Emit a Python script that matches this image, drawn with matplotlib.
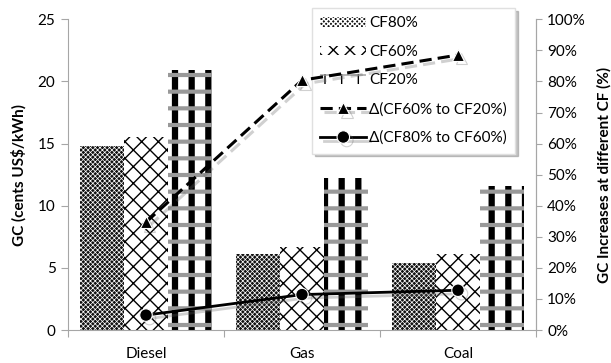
import matplotlib
matplotlib.use('Agg')
import numpy as np
import matplotlib.pyplot as plt
import matplotlib.patheffects as pe
from matplotlib.ticker import FuncFormatter

plt.rcParams['font.family'] = ['Lato', 'DejaVu Sans']

# data
categories = ['Diesel', 'Gas', 'Coal']
cf80 = [14.8, 6.1, 5.4]
cf60 = [15.5, 6.7, 6.1]
cf20 = [20.9, 12.2, 11.6]
d_60_20 = [34.7, 80.4, 88.5]   # %
d_80_60 = [4.8, 11.4, 12.8]    # %

grey = '#a6a6a6'

fig = plt.figure(figsize=(6.11, 3.63), dpi=100)
ax = fig.add_axes([0.1113, 0.0909, 0.766, 0.8559])
ax2 = ax.twinx()

x = np.arange(len(categories))
w = 0.284


def hatched_bar(xpos, vals, face, edge, hatch, hlw, **kw):
    with plt.rc_context({'hatch.linewidth': hlw}):
        bars = ax.bar(xpos, vals, w, facecolor=face, edgecolor=edge,
                      hatch=hatch, linewidth=0, **kw)
    for b in bars:
        if hasattr(b, 'set_hatch_linewidth'):
            b.set_hatch_linewidth(hlw)
    return bars


b80 = hatched_bar(x - w, cf80, '#111111', 'white', 'xxxxxxx', 0.5)
b60 = hatched_bar(x, cf60, 'white', 'black', 'xx', 1.0)
b20a = hatched_bar(x + w, cf20, 'white', 'black', '|', 4.5)
b20b = hatched_bar(x + w, cf20, 'none', '#999999', '-', 3.0)

shadow = [pe.SimpleLineShadow(offset=(2.5, -2.5), shadow_color='0.4', alpha=0.3),
          pe.Normal()]
l1, = ax2.plot(x, d_60_20, color='black', lw=2.2, ls=(0, (4, 2)),
               marker='^', ms=8.5, mfc='black', mec='white', mew=0.8,
               path_effects=shadow)
l2, = ax2.plot(x, d_80_60, color='black', lw=2.0,
               marker='o', ms=9, mfc='black', mec='white', mew=0.8,
               path_effects=shadow)

ax.set_xlim(-0.5, 2.5)
ax.set_ylim(0, 25)
ax2.set_ylim(0, 100)
ax.set_yticks(range(0, 26, 5))
ax2.set_yticks(range(0, 101, 10))
ax2.yaxis.set_major_formatter(FuncFormatter(lambda v, p: f'{v:.0f}%'))

ax.set_xticks([-0.5, 0.5, 1.5, 2.5])
ax.set_xticklabels([])
ax.set_xticks(x, minor=True)
ax.set_xticklabels(categories, minor=True)
ax.tick_params(axis='x', which='major', length=5, color=grey)
ax.tick_params(axis='x', which='minor', length=0, labelsize=11, pad=12)
ax.tick_params(axis='y', length=5, color=grey, labelsize=11, pad=4)
ax2.tick_params(axis='y', length=4, color=grey, labelsize=11, pad=4)

for a in (ax, ax2):
    a.spines['top'].set_visible(False)
    for s in ('left', 'right', 'bottom'):
        a.spines[s].set_color(grey)
ax2.spines['left'].set_visible(False)
ax2.spines['bottom'].set_visible(False)

ax.set_ylabel('GC (cents US$/kWh)', fontsize=11, fontweight='bold', labelpad=8)
ax2.set_ylabel('GC Increases at different CF (%)', fontsize=11,
               fontweight='bold', labelpad=8)

# legend sits on the bar axes so the lines on ax2 are drawn over it
leg = ax.legend([b80[0], b60[0], (b20a[0], b20b[0]), l1, l2],
                ['CF80%', 'CF60%', 'CF20%', 'Δ(CF60% to CF20%)', 'Δ(CF80% to CF60%)'],
                loc='upper left', bbox_to_anchor=(312 / 611, 1 - 8 / 363),
                bbox_transform=fig.transFigure, borderaxespad=0, fontsize=11,
                handlelength=3.0, handleheight=0.6, handletextpad=0.2,
                labelspacing=0.95, borderpad=0.55, fancybox=False,
                framealpha=1, edgecolor='#e0e0e0',
                shadow={'color': '0.55', 'alpha': 0.5})

fig.savefig('out.png', dpi=100)
